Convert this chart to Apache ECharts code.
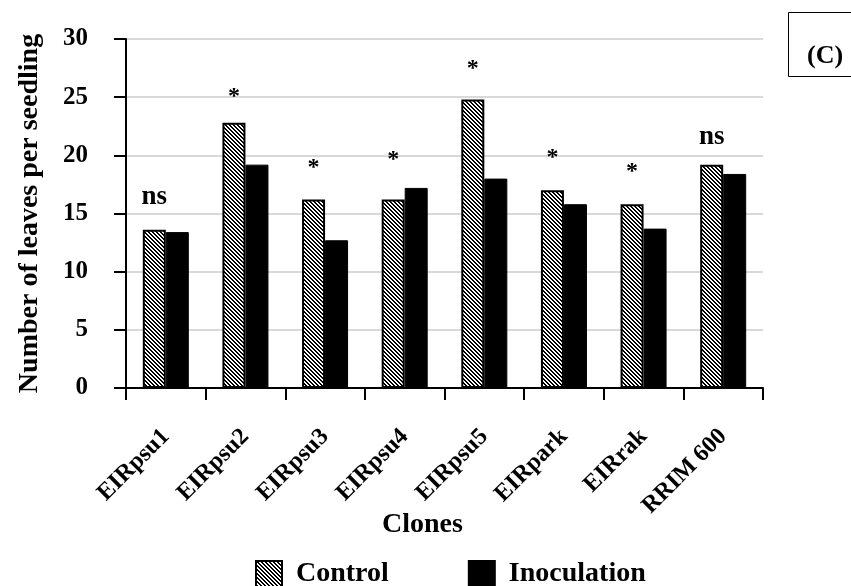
<!DOCTYPE html>
<html><head><meta charset="utf-8">
<script src="https://cdn.jsdelivr.net/npm/echarts@6/dist/echarts.min.js"></script>
<style>html,body{margin:0;padding:0;background:#fff}#c{width:851px;height:586px}</style>
</head><body><div id="c"></div>
<script>
// ---- data ----
const categories = ['EIRpsu1','EIRpsu2','EIRpsu3','EIRpsu4','EIRpsu5','EIRpark','EIRrak','RRIM 600'];
const controlValues = [13.6, 22.8, 16.2, 16.2, 24.8, 17.0, 15.8, 19.2];
const inoculationValues = [13.4, 19.2, 12.7, 17.2, 18.0, 15.8, 13.7, 18.4];
const significance = ['ns', '*', '*', '*', '*', '*', '*', 'ns'];
const yMin = 0, yMax = 30, yStep = 5;
const seriesNames = ['Control', 'Inoculation'];
const xAxisTitle = 'Clones';
const yAxisTitle = 'Number of leaves per seedling';
const panelTag = '(C)';

// ---- styling ----
const FONT = "'Liberation Serif', 'Times New Roman', serif";
function hatch() {
  const n = 4;
  const c = document.createElement('canvas');
  c.width = n; c.height = n;
  const g = c.getContext('2d');
  g.fillStyle = '#fff'; g.fillRect(0, 0, n, n);
  g.fillStyle = '#000';
  for (let i = 0; i < n; i++) { g.fillRect(i, i, 1, 1); g.fillRect((i + 1) % n, i, 1, 1); }
  return c;
}
const hatchPattern = { image: hatch(), repeat: 'repeat' };
const labelGap = [19, 14, 20, 28, 19, 20, 20, 14];

const chart = echarts.init(document.getElementById('c'), null, { renderer: 'canvas' });
chart.setOption({
  animation: false,
  backgroundColor: '#fff',
  grid: { left: 126, right: 88, top: 39, bottom: 198, containLabel: false },
  legend: {
    data: seriesNames,
    left: 255, top: 560, padding: 0,
    itemWidth: 26, itemHeight: 26, itemGap: 79,
    icon: 'rect',
    textStyle: { fontFamily: FONT, fontWeight: 'bold', fontSize: 28, color: '#000', padding: [0, 0, 0, 9] }
  },
  xAxis: {
    type: 'category',
    data: categories,
    name: xAxisTitle,
    nameLocation: 'middle',
    nameGap: 123,
    nameMoveOverlap: false,
    nameTextStyle: { fontFamily: FONT, fontWeight: 'bold', fontSize: 28, color: '#000', padding: [0, 44, 0, 0] },
    axisLine: { lineStyle: { color: '#000', width: 2 } },
    axisTick: { show: true, length: 12, lineStyle: { color: '#000', width: 2 } },
    axisLabel: {
      interval: 0, rotate: 45, margin: 45, verticalAlign: 'middle',
      fontFamily: FONT, fontWeight: 'bold', fontSize: 24, color: '#000'
    }
  },
  yAxis: {
    type: 'value',
    min: yMin, max: yMax, interval: yStep,
    name: yAxisTitle,
    nameLocation: 'middle',
    nameGap: 82,
    nameMoveOverlap: false,
    nameTextStyle: { fontFamily: FONT, fontWeight: 'bold', fontSize: 28, color: '#000' },
    axisLine: { show: true, lineStyle: { color: '#000', width: 2 } },
    axisTick: { show: true, length: 12, lineStyle: { color: '#000', width: 2 } },
    axisLabel: { margin: 38, fontFamily: FONT, fontWeight: 'bold', fontSize: 25, color: '#000' },
    splitLine: { lineStyle: { color: '#d9d9d9', width: 2 } }
  },
  series: [
    {
      name: seriesNames[0], type: 'bar', barWidth: 23, barGap: '0%',
      itemStyle: { color: hatchPattern, borderColor: '#000', borderWidth: 2 },
      data: controlValues.map((v, i) => ({
        value: v,
        label: {
          show: true, position: 'top', distance: labelGap[i],
          formatter: significance[i],
          fontFamily: FONT, color: '#000', fontWeight: 'bold',
          fontSize: significance[i] === 'ns' ? 27 : 24
        }
      })),
      z: 3
    },
    {
      name: seriesNames[1], type: 'bar', barWidth: 23, barGap: '0%',
      itemStyle: { color: '#000', borderColor: '#000', borderWidth: 1 },
      data: inoculationValues,
      z: 2
    }
  ],
  graphic: [
    { type: 'rect', left: 788, top: 12, shape: { width: 64, height: 64 },
      style: { fill: '#fff', stroke: '#000', lineWidth: 1 } },
    { type: 'text', left: 807, top: 43,
      style: { text: panelTag, font: "bold 26px 'Liberation Serif', serif", fill: '#000' } }
  ]
});
</script></body></html>
